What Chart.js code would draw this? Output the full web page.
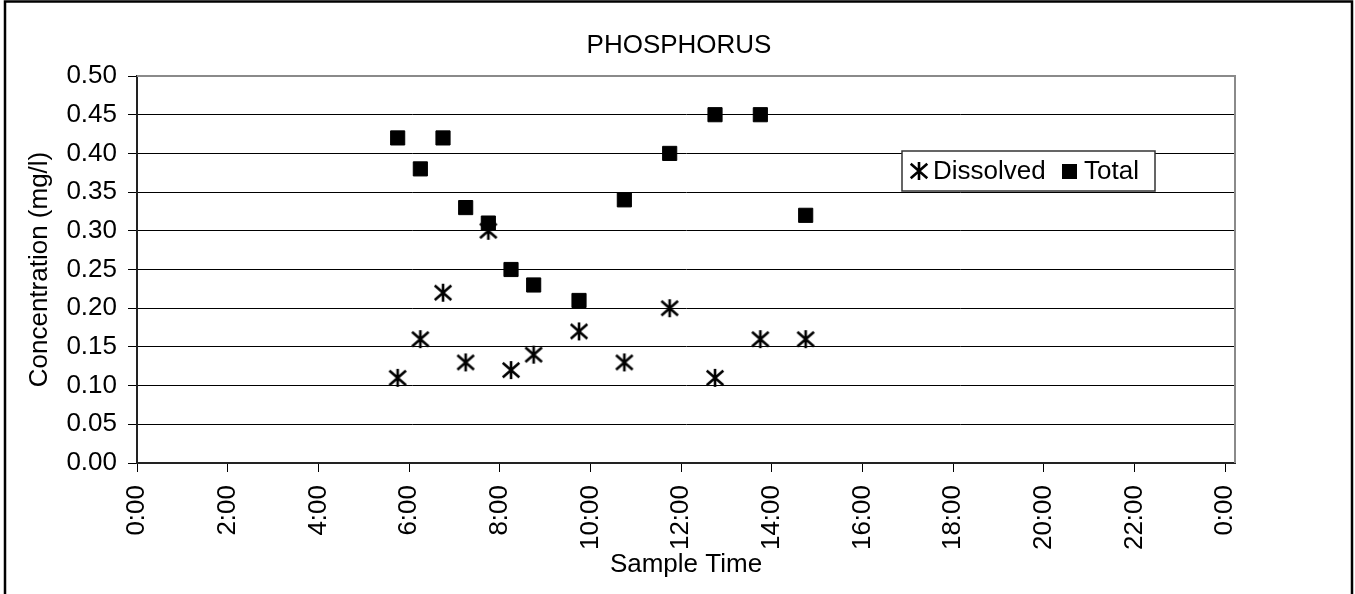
<!DOCTYPE html>
<html>
<head>
<meta charset="utf-8">
<script src="https://cdn.jsdelivr.net/npm/chart.js@4/dist/chart.umd.min.js"></script>
<style>
  html, body { margin: 0; padding: 0; background: #ffffff; }
  #wrap { width: 1355px; height: 594px; }
</style>
</head>
<body>
<div id="wrap"><canvas id="chart" width="1355" height="594"></canvas></div>
<script>
// Sample times in hours after midnight
const sampleHours = [5.75, 6.25, 6.75, 7.25, 7.75, 8.25, 8.75, 9.75, 10.75, 11.75, 12.75, 13.75, 14.75];
// Phosphorus concentrations (mg/l)
const dissolvedP = [0.11, 0.16, 0.22, 0.13, 0.30, 0.12, 0.14, 0.17, 0.13, 0.20, 0.11, 0.16, 0.16];
const totalP     = [0.42, 0.38, 0.42, 0.33, 0.31, 0.25, 0.23, 0.21, 0.34, 0.40, 0.45, 0.45, 0.32];
// Axis ticks
const timeTicks = [0, 2, 4, 6, 8, 10, 12, 14, 16, 18, 20, 22, 24];
const timeTickLabels = ['0:00', '2:00', '4:00', '6:00', '8:00', '10:00', '12:00', '14:00', '16:00', '18:00', '20:00', '22:00', '0:00'];
const concTicks = [0, 0.05, 0.10, 0.15, 0.20, 0.25, 0.30, 0.35, 0.40, 0.45, 0.50];
const concTickLabels = ['0.00', '0.05', '0.10', '0.15', '0.20', '0.25', '0.30', '0.35', '0.40', '0.45', '0.50'];

const FONT_FAMILY = '"Liberation Sans", Arial, sans-serif';
const FONT_SIZE = 26;

// Asterisk marker: vertical stroke plus a diagonal cross
function makeStar(size, lw) {
  const c = document.createElement('canvas');
  c.width = size; c.height = size;
  const g = c.getContext('2d');
  const m = size / 2, r = size / 2 - 1;
  g.strokeStyle = '#000';
  g.lineWidth = lw;
  g.lineCap = 'butt';
  g.beginPath();
  g.moveTo(m, m - r); g.lineTo(m, m + r);
  g.moveTo(m - r * 0.92, m - r * 0.8); g.lineTo(m + r * 0.92, m + r * 0.8);
  g.moveTo(m + r * 0.92, m - r * 0.8); g.lineTo(m - r * 0.92, m + r * 0.8);
  g.stroke();
  return c;
}
const starMarker = makeStar(20, 2.6);

const toPoints = (ys) => sampleHours.map((h, i) => ({ x: h, y: ys[i] }));

const decorations = {
  id: 'decorations',
  afterDraw(chart) {
    const { ctx, chartArea: a } = chart;
    ctx.save();
    // plot frame (top and right sides)
    ctx.strokeStyle = '#8a8a8a';
    ctx.lineWidth = 2;
    ctx.beginPath();
    ctx.moveTo(a.left, a.top);
    ctx.lineTo(a.right, a.top);
    ctx.lineTo(a.right, a.bottom);
    ctx.stroke();

    // outer frame
    ctx.strokeStyle = '#000';
    ctx.lineWidth = 2.5;
    ctx.strokeRect(5, 1.5, 1347, 640);

    // chart title
    ctx.fillStyle = '#000';
    ctx.font = FONT_SIZE + 'px ' + FONT_FAMILY;
    ctx.textAlign = 'center';
    ctx.textBaseline = 'middle';
    ctx.fillText('PHOSPHORUS', 679, 46);

    // legend
    const lx = 902, ly = 151, lw = 253, lh = 40;
    ctx.fillStyle = '#fff';
    ctx.fillRect(lx, ly, lw, lh);
    ctx.strokeStyle = '#333';
    ctx.lineWidth = 1.5;
    ctx.strokeRect(lx, ly, lw, lh);
    const cy = ly + lh / 2;
    ctx.drawImage(starMarker, 919 - starMarker.width / 2, cy - starMarker.height / 2);
    ctx.fillStyle = '#000';
    ctx.textAlign = 'left';
    ctx.fillText(chart.data.datasets[0].label, 933, cy + 1);
    ctx.fillRect(1062, cy - 7, 15, 15);
    ctx.fillText(chart.data.datasets[1].label, 1084, cy + 1);
    ctx.restore();
  }
};

new Chart(document.getElementById('chart'), {
  type: 'scatter',
  data: {
    datasets: [
      {
        label: 'Dissolved',
        data: toPoints(dissolvedP),
        pointStyle: starMarker,
        pointRadius: 10,
        pointHoverRadius: 10
      },
      {
        label: 'Total',
        data: toPoints(totalP),
        pointStyle: 'rect',
        pointRadius: 10,
        pointHoverRadius: 10,
        backgroundColor: '#000',
        borderColor: '#000',
        borderWidth: 1
      }
    ]
  },
  options: {
    responsive: false,
    animation: false,
    devicePixelRatio: 1,
    layout: { padding: { top: 76, right: 120, left: 0, bottom: 0 } },
    plugins: {
      legend: { display: false },
      title: { display: false },
      tooltip: { enabled: false }
    },
    scales: {
      x: {
        type: 'linear',
        min: 0,
        max: 24.22,
        afterBuildTicks: (s) => { s.ticks = timeTicks.map(v => ({ value: v })); },
        afterFit: (s) => { s.height = 131; },
        ticks: {
          autoSkip: false,
          minRotation: 90,
          maxRotation: 90,
          padding: 13,
          color: '#000',
          font: { family: FONT_FAMILY, size: FONT_SIZE },
          callback: (v) => timeTickLabels[timeTicks.indexOf(v)]
        },
        grid: { drawOnChartArea: false, drawTicks: true, tickLength: 9, color: '#000', lineWidth: 1 },
        border: { display: true, color: '#222', width: 2 },
        title: {
          display: true,
          text: 'Sample Time',
          color: '#000',
          font: { family: FONT_FAMILY, size: FONT_SIZE },
          padding: { top: 0, bottom: 14 }
        }
      },
      y: {
        min: 0,
        max: 0.5,
        afterBuildTicks: (s) => { s.ticks = concTicks.map(v => ({ value: v })); },
        afterFit: (s) => { s.width = 137; },
        ticks: {
          padding: 11,
          color: '#000',
          font: { family: FONT_FAMILY, size: FONT_SIZE },
          callback: (v) => concTickLabels[concTicks.indexOf(v)]
        },
        grid: {
          drawTicks: true,
          tickLength: 9,
          tickColor: '#000',
          color: (c) => (c.tick && c.tick.value >= 0.5 ? 'rgba(0,0,0,0)' : '#000'),
          lineWidth: 1
        },
        border: { display: true, color: '#222', width: 2 },
        title: {
          display: true,
          text: 'Concentration (mg/l)',
          color: '#000',
          font: { family: FONT_FAMILY, size: FONT_SIZE },
          padding: { top: 24, bottom: 0 }
        }
      }
    }
  },
  plugins: [decorations]
});
</script>
</body>
</html>
